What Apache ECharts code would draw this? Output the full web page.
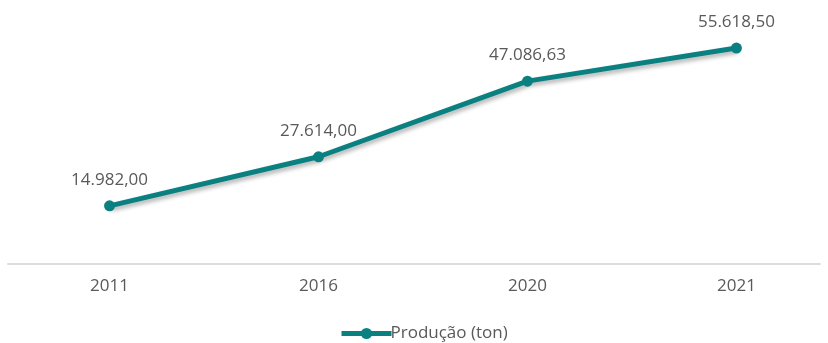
<!DOCTYPE html>
<html>
<head>
<meta charset="utf-8">
<script src="https://cdn.jsdelivr.net/npm/echarts@6/dist/echarts.min.js"></script>
<style>html,body{margin:0;padding:0;background:#fff}#c{width:828px;height:343px}</style>
</head>
<body>
<div id="c"></div>
<script>
const categories = ['2011', '2016', '2020', '2021'];
const producao = [14982.00, 27614.00, 47086.63, 55618.50];
const seriesName = 'Produção (ton)';

function fmtBR(v) {
  const parts = v.toFixed(2).split('.');
  const intPart = parts[0].replace(/\B(?=(\d{3})+(?!\d))/g, '.');
  return intPart + ',' + parts[1];
}

const chart = echarts.init(document.getElementById('c'));
const font = '"Open Sans", "Noto Sans", sans-serif';
chart.setOption({
  animation: false,
  backgroundColor: '#ffffff',
  grid: { left: 8, right: 8, top: 31, bottom: 79, containLabel: false },
  xAxis: {
    type: 'value',
    min: -0.486,
    max: 3.40,
    axisLine: { show: true, onZero: false, lineStyle: { color: '#dcdcdc', width: 2 } },
    axisTick: { show: false },
    splitLine: { show: false },
    axisLabel: {
      customValues: categories.map((c, i) => i),
      formatter: v => categories[Math.round(v)] || '',
      color: '#595959', fontFamily: font, fontSize: 17, margin: 14
    }
  },
  yAxis: { type: 'value', min: 0, max: 60000, show: false, splitLine: { show: false } },
  legend: {
    data: [seriesName],
    left: 334, top: 320,
    itemWidth: 50, itemHeight: 14, itemGap: 0,
    lineStyle: { width: 5 },
    textStyle: { color: '#595959', fontFamily: font, fontSize: 17, padding: [0, 0, 0, -6] }
  },
  series: [{
    name: seriesName,
    type: 'line',
    data: producao.map((v, i) => [i, v]),
    color: '#0a8080',
    symbol: 'circle',
    symbolSize: 11,
    lineStyle: { width: 5, color: '#0a8080', shadowColor: 'rgba(0,0,0,0.3)', shadowBlur: 4, shadowOffsetY: 3, shadowOffsetX: 1 },
    itemStyle: { color: '#0a8080' },
    label: {
      show: true, position: 'top', distance: 12,
      formatter: p => fmtBR(p.value[1]),
      color: '#595959', fontFamily: font, fontSize: 17
    }
  }]
});
</script>
</body>
</html>
